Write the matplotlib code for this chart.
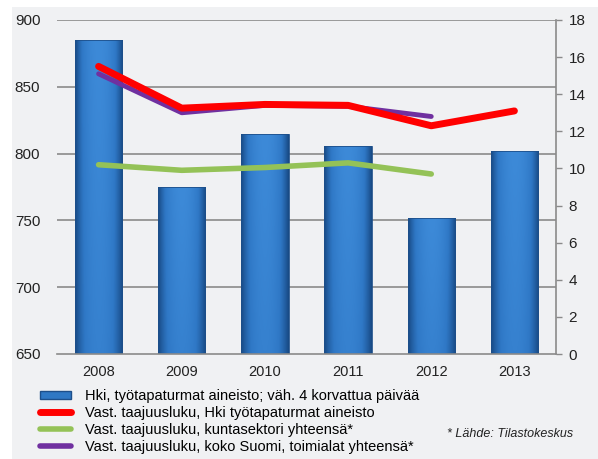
import matplotlib.pyplot as plt
import numpy as np
from matplotlib.lines import Line2D
from matplotlib.patches import Patch, Rectangle
from matplotlib.colors import LinearSegmentedColormap

plt.rcParams['font.family'] = ['Liberation Sans', 'DejaVu Sans']

years = ['2008', '2009', '2010', '2011', '2012', '2013']
cases = [885, 775, 815, 806, 752, 802]
freq_hki = [15.5, 13.25, 13.45, 13.4, 12.3, 13.1]
freq_kunta = [10.2, 9.9, 10.05, 10.3, 9.7]
freq_suomi = [15.1, 13.0, 13.4, 13.35, 12.8]

legend_labels = ['Hki, työtapaturmat aineisto; väh. 4 korvattua päivää',
                 'Vast. taajuusluku, Hki työtapaturmat aineisto',
                 'Vast. taajuusluku, kuntasektori yhteensä*',
                 'Vast. taajuusluku, koko Suomi, toimialat yhteensä*']

bg = '#f0f1f3'
grid_c = '#8a8a8a'
red = '#ff0000'
green = '#94c257'
purple = '#7030a0'

fig = plt.figure(figsize=(5.98, 4.59), dpi=100)
fig.patch.set_facecolor('white')
fig.patches.append(Rectangle((12/598, 0), 1, 1 - 7/459, transform=fig.transFigure,
                             facecolor=bg, edgecolor='none', zorder=-10))

ax = fig.add_axes([57/598, 1 - 354/459, 499/598, 334/459])
ax.set_facecolor('none')
x = np.arange(len(years))

# bars with a gradient: darker at the sides and towards the bottom
cmap = LinearSegmentedColormap.from_list('bar', ['#184a85', '#2f78c6', '#3d8ad8'])
gx = 1 - np.abs(np.linspace(-1, 1, 64)) ** 2
gy = np.linspace(0.75, 1.0, 64)[:, None]
grad = gx[None, :] * gy
bars = ax.bar(x, cases, width=0.57, bottom=0, color='#2f78c4', edgecolor='#1d4f8a',
              linewidth=0.6, zorder=2)
for b in bars:
    b.set_facecolor('none')
    x0, w, h = b.get_x(), b.get_width(), b.get_height()
    im = ax.imshow(grad, cmap=cmap, extent=(x0, x0 + w, 650, h), aspect='auto',
                   zorder=1.5, origin='lower', vmin=0, vmax=1)
    im.set_clip_path(b)

ax.set_xlim(-0.5, len(years) - 0.5)
ax.set_ylim(650, 900)
ax.set_yticks([650, 700, 750, 800, 850, 900])
ax.set_xticks(x)
ax.set_xticklabels(years)
for v in [700, 750, 800, 850, 900]:
    ax.axhline(v, color=grid_c, lw=1.2, zorder=1)
for s in ['top', 'left', 'right']:
    ax.spines[s].set_visible(False)
ax.spines['bottom'].set_color(grid_c)
ax.spines['bottom'].set_linewidth(1.2)
ax.tick_params(axis='both', length=0, labelsize=11, colors='#222222')
ax.tick_params(axis='y', pad=12)
ax.tick_params(axis='x', pad=8, labelsize=10.5)

ax2 = ax.twinx()
ax2.set_ylim(0, 18)
ax2.set_yticks(range(0, 19, 2))
for s in ['top', 'left', 'bottom']:
    ax2.spines[s].set_visible(False)
ax2.spines['right'].set_color(grid_c)
ax2.spines['right'].set_linewidth(1.2)
ax2.tick_params(axis='y', length=4, width=1, color=grid_c, labelsize=11,
                labelcolor='#222222', pad=5)

ax2.plot(x[:5], freq_suomi, color=purple, lw=3.5, solid_capstyle='round', zorder=3)
ax2.plot(x, freq_hki, color=red, lw=5, solid_capstyle='round', zorder=4)
ax2.plot(x[:5], freq_kunta, color=green, lw=4, solid_capstyle='round', zorder=3)

handles = [Patch(facecolor='#2f78c4', edgecolor='#1d4f8a'),
           Line2D([], [], color=red, lw=5, solid_capstyle='round'),
           Line2D([], [], color=green, lw=4, solid_capstyle='round'),
           Line2D([], [], color=purple, lw=4, solid_capstyle='round')]
fig.legend(handles, legend_labels, loc='upper left', bbox_to_anchor=(40/598, 1 - 389/459),
           frameon=False, fontsize=10.5, handlelength=2.1, handleheight=0.45,
           handletextpad=1.0, labelspacing=0.2, borderpad=0, borderaxespad=0)
fig.text(447/598, 1 - 434/459, '* Lähde: Tilastokeskus', style='italic', fontsize=9,
         va='center', ha='left', color='#222222')

fig.savefig('out.png', dpi=100, facecolor=fig.get_facecolor())
